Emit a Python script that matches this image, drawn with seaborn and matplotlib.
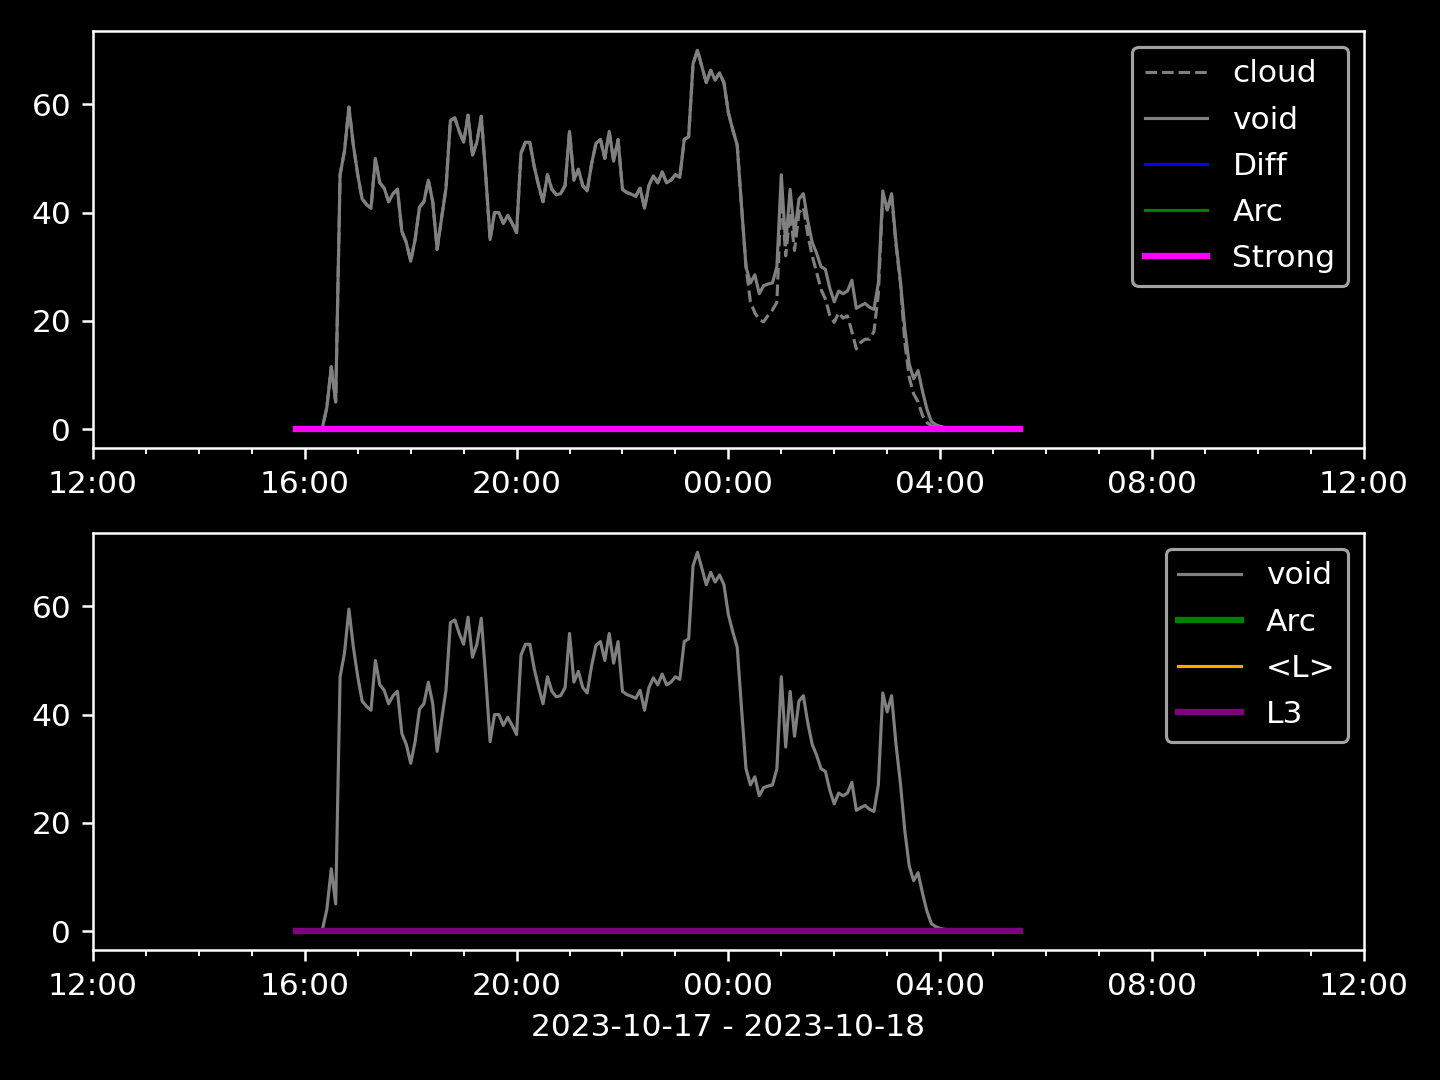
import pandas as pd
import seaborn as sns
import matplotlib.pyplot as plt
import matplotlib.dates as mdates

plt.style.use('dark_background')

# 5-minute samples, 2023-10-17 15:50 -> 2023-10-18 05:30
times = pd.date_range('2023-10-17 15:50', '2023-10-18 05:30', freq='5min')

void = [
    0, 0, 0, 0, 0, 0, 0.3, 4, 11.5, 5,
    47, 51.4, 59.5, 52.5, 47, 42.5, 41.5, 40.8, 50, 45.5,
    44.5, 42, 43.5, 44.3, 36.5, 34.5, 31, 35, 41, 42,
    46, 42, 33.2, 39, 44.5, 57, 57.5, 55, 53, 58,
    50.6, 53, 57.8, 47, 35, 40, 40, 38, 39.5, 38,
    36.3, 51, 53, 53, 48.5, 45, 42, 47, 44.3, 43.3,
    43.5, 45, 55, 46, 48, 45, 44, 49, 52.8, 53.5,
    50, 55, 49.5, 53.5, 44.3, 43.7, 43.4, 43, 44.5, 40.8,
    45, 46.8, 45.5, 47.5, 45.5, 46, 47, 46.5, 53.5, 54,
    67.5, 70, 67, 64, 66.3, 64.5, 65.8, 64, 58.5, 55.3,
    52.5, 41, 30, 27, 28.5, 25, 26.5, 26.8, 27, 30,
    47, 34, 44.3, 36, 42.5, 43.5, 38.5, 34.5, 32.5, 30,
    29.5, 26, 23.5, 25.5, 25, 25.5, 27.5, 22.3, 22.8, 23.2,
    22.5, 22.1, 27, 44, 40.5, 43.5, 34.5, 27.3, 18.5, 12,
    9.3, 10.8, 7, 3.7, 1.4, 0.8, 0.5, 0.3, 0.2, 0.1,
    0.1, 0, 0, 0, 0, 0, 0, 0, 0, 0, 0, 0, 0, 0, 0,
]

# cloud follows void until about 00:20, then runs lower
cloud = void[:103] + [
    23.5, 21.5, 20.2, 19.8, 21, 22, 23.4,
    44, 32, 40, 33, 40, 41, 36, 32, 29, 25.8,
    24, 21, 19.7, 21.5, 20.5, 20.9, 18, 14.8, 16, 16.6,
    16.6, 18, 25, 43, 40.5, 43, 34, 27, 16, 9.5,
    6.5, 5, 2.5, 1.2, 0.6, 0.3, 0.2, 0.1, 0.1, 0,
    0, 0, 0, 0, 0, 0, 0, 0, 0, 0, 0, 0, 0, 0, 0,
]

diff = [0] * len(void)
arc = [0] * len(void)
strong = [0] * len(void)
mean_l = [0] * len(void)
l3 = [0] * len(void)

fig, (ax1, ax2) = plt.subplots(2, 1, figsize=(6.4, 4.8), dpi=225)

# top panel
sns.lineplot(x=times, y=cloud, ax=ax1, color='gray', lw=1, linestyle='--', label='cloud')
sns.lineplot(x=times, y=void, ax=ax1, color='gray', lw=1, label='void')
sns.lineplot(x=times, y=diff, ax=ax1, color='blue', lw=1, label='Diff')
sns.lineplot(x=times, y=arc, ax=ax1, color='green', lw=1, label='Arc')
sns.lineplot(x=times, y=strong, ax=ax1, color='magenta', lw=2, label='Strong')

# bottom panel
sns.lineplot(x=times, y=void, ax=ax2, color='gray', lw=1, label='void')
sns.lineplot(x=times, y=arc, ax=ax2, color='green', lw=2, label='Arc')
sns.lineplot(x=times, y=mean_l, ax=ax2, color='orange', lw=1, label='<L>')
sns.lineplot(x=times, y=l3, ax=ax2, color='purple', lw=2, label='L3')

for ax in (ax1, ax2):
    ax.set_xlim(pd.Timestamp('2023-10-17 12:00'), pd.Timestamp('2023-10-18 12:00'))
    ax.xaxis.set_major_locator(mdates.HourLocator(byhour=range(0, 24, 4)))
    ax.xaxis.set_minor_locator(mdates.HourLocator())
    ax.xaxis.set_major_formatter(mdates.DateFormatter('%H:%M'))
    ax.set_ylabel('')
    ax.legend(loc='upper right', labelspacing=0.55)

ax1.set_xlabel('')
ax2.set_xlabel('2023-10-17 - 2023-10-18')

fig.subplots_adjust(left=0.0646, right=0.947, top=0.971, bottom=0.1204, hspace=0.205)
fig.savefig('out.png', dpi=225)
